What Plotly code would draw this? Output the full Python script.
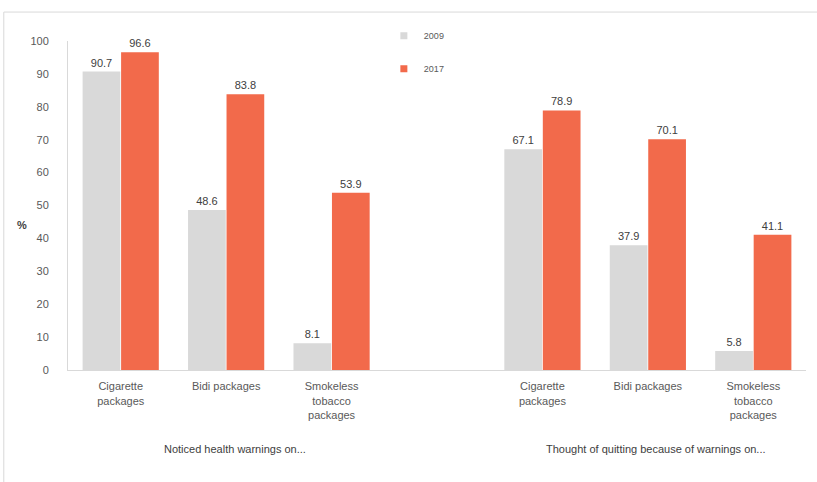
import plotly.graph_objects as go

# Survey results: share of respondents (%), 2009 vs 2017
categories = ["Cigarette<br>packages", "Bidi packages", "Smokeless<br>tobacco<br>packages"]
groups = ["Noticed health warnings on...", "Thought of quitting because of warnings on..."]
years = ["2009", "2017"]
noticed_2009 = [90.7, 48.6, 8.1]
noticed_2017 = [96.6, 83.8, 53.9]
quit_2009 = [67.1, 37.9, 5.8]
quit_2017 = [78.9, 70.1, 41.1]
y_ticks = [0, 10, 20, 30, 40, 50, 60, 70, 80, 90, 100]

GRAY = "#d9d9d9"
ORANGE = "#f26a4b"
TEXT = "#404040"
FONT = "Liberation Sans"

# Two blocks of three categories separated by one empty slot
n = len(categories)
x_first = list(range(n))
x_second = [n + 1 + i for i in range(n)]
xs = x_first + x_second
series = {
    years[0]: noticed_2009 + quit_2009,
    years[1]: noticed_2017 + quit_2017,
}
colors = {years[0]: GRAY, years[1]: ORANGE}

fig = go.Figure()
for yr, vals in series.items():
    fig.add_trace(go.Bar(
        x=xs, y=vals, name=yr, showlegend=False,
        marker=dict(color=colors[yr], line=dict(width=0)),
        text=[f"{v:.1f}" for v in vals], textposition="outside",
        textfont=dict(size=11, color=TEXT, family=FONT), cliponaxis=False,
    ))
# Small square legend keys
for yr in years:
    fig.add_trace(go.Scatter(
        x=[None], y=[None], mode="markers", name=yr, legendgroup=yr,
        marker=dict(symbol="square", size=7, color=colors[yr]),
    ))

fig.update_layout(
    width=817, height=482,
    margin=dict(l=68, r=11, t=41, b=112),
    paper_bgcolor="white", plot_bgcolor="white",
    barmode="group", bargap=0.27, bargroupgap=0.02,
    font=dict(family=FONT, size=11, color=TEXT),
    showlegend=True,
    legend=dict(
        x=0.428, y=1.06, xanchor="left", yanchor="top",
        font=dict(size=9, color="#595959"), tracegroupgap=14,
        itemwidth=30, bgcolor="rgba(0,0,0,0)",
        traceorder="grouped",
    ),
    xaxis=dict(
        range=[-0.5, 2 * n + 0.5], tickmode="array", tickvals=xs,
        ticktext=categories + categories,
        tickfont=dict(size=11, color="#595959"),
        showline=True, linecolor="#d9d9d9", linewidth=1,
        showgrid=False, zeroline=False, ticks="", ticklabelstandoff=6,
    ),
    yaxis=dict(
        range=[0, 100], tickmode="array", tickvals=y_ticks,
        tickfont=dict(size=11, color="#595959"),
        showline=True, linecolor="#d9d9d9", linewidth=1,
        showgrid=False, zeroline=False, ticks="", ticklabelstandoff=16,
    ),
)

# Group captions under each block
for i, g in enumerate(groups):
    block = x_first if i == 0 else x_second
    fig.add_annotation(
        x=sum(block) / len(block) + 0.08, xref="x", y=-0.24, yref="paper",
        yanchor="middle", text=g, showarrow=False,
        font=dict(size=11, color="#404040", family=FONT),
    )

# Axis unit label
fig.add_annotation(
    x=-0.072, xref="paper", y=0.44, yref="paper", text="<b>%</b>",
    showarrow=False, font=dict(size=11, color=TEXT, family=FONT),
)

# Light frame around the chart
fig.add_shape(
    type="rect", xref="paper", yref="paper",
    x0=-0.087, x1=1.02, y0=-0.4, y1=1.088,
    line=dict(color="#d9d9d9", width=1), fillcolor="rgba(0,0,0,0)", layer="below",
)

fig.write_html("out.html")
